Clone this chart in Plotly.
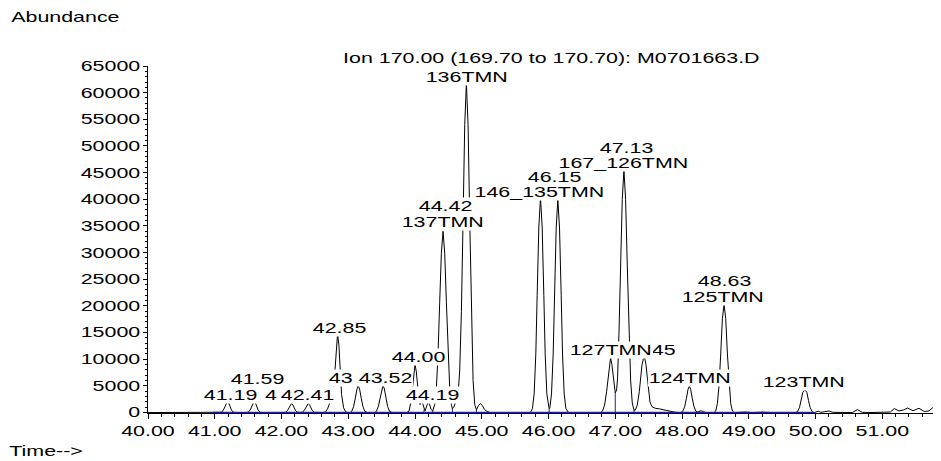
import plotly.graph_objects as go

# ---- data ----
time_min = [
    40.00, 41.09,
    41.10, 41.13, 41.15, 41.17, 41.19, 41.21, 41.23, 41.25, 41.28, 41.32,
    41.46, 41.50, 41.53, 41.55, 41.57, 41.59, 41.61, 41.63, 41.65, 41.68, 41.72,
    42.02, 42.06, 42.09, 42.11, 42.13, 42.15, 42.17, 42.19, 42.21, 42.24, 42.27,
    42.31, 42.34, 42.36, 42.38, 42.40, 42.42, 42.44, 42.46, 42.49, 42.53,
    42.62, 42.66, 42.69, 42.72, 42.75, 42.78, 42.80, 42.82, 42.84, 42.86, 42.88, 42.90, 42.93, 42.96, 42.99,
    43.03, 43.05, 43.08, 43.105, 43.13, 43.15, 43.17, 43.195, 43.22, 43.25, 43.29,
    43.40, 43.42, 43.45, 43.475, 43.50, 43.52, 43.54, 43.565, 43.59, 43.62, 43.66,
    43.88, 43.91, 43.94, 43.96, 43.98, 44.00, 44.02, 44.04, 44.06, 44.075, 44.09, 44.10, 44.115,
    44.135, 44.15, 44.175, 44.19, 44.20, 44.215, 44.24, 44.265,
    44.295, 44.32, 44.345, 44.37, 44.395, 44.42, 44.445, 44.47, 44.495, 44.52, 44.545,
    44.56, 44.58, 44.61, 44.63, 44.645, 44.67, 44.695, 44.72, 44.745, 44.77, 44.795, 44.82,
    44.845, 44.87, 44.895, 44.92, 44.95, 44.98, 45.01, 45.04, 45.08, 45.13,
    45.73, 45.76, 45.785, 45.81, 45.83, 45.855, 45.88, 45.905, 45.93, 45.95, 45.975, 46.00,
    46.01, 46.02, 46.045, 46.07, 46.09, 46.115, 46.14, 46.165, 46.19, 46.21, 46.235, 46.26, 46.30,
    46.78, 46.81, 46.84, 46.87, 46.89, 46.91, 46.93, 46.95, 46.97, 46.99, 47.00,
    47.02, 47.035, 47.055, 47.08, 47.105, 47.13, 47.155, 47.18, 47.205, 47.23, 47.255, 47.28,
    47.30, 47.33, 47.36, 47.38, 47.40, 47.42, 47.44, 47.46, 47.48, 47.50, 47.52, 47.55,
    47.60, 47.66, 47.72, 47.80, 47.88, 47.95,
    47.98, 48.01, 48.04, 48.065, 48.09, 48.11, 48.13, 48.155, 48.18, 48.21, 48.24,
    48.27, 48.29, 48.32, 48.36,
    48.48, 48.505, 48.53, 48.555, 48.58, 48.605, 48.63, 48.655, 48.68, 48.705, 48.73, 48.755, 48.78,
    48.95, 49.05, 49.20, 49.35,
    49.70, 49.73, 49.76, 49.785, 49.81, 49.84, 49.87, 49.895, 49.92, 49.95, 49.98,
    50.04, 50.08, 50.13, 50.20, 50.26, 50.35, 50.55, 50.63, 50.70, 50.80, 50.95, 51.05,
    51.12, 51.18, 51.25, 51.32, 51.38, 51.46, 51.55, 51.63, 51.70, 51.80, 51.85, 51.88,
]
abundance = [
    0, 0,
    60, 480, 1090, 1790, 2100, 1790, 1090, 480, 60, 0,
    0, 60, 480, 1090, 1790, 2100, 1790, 1090, 480, 60, 0,
    0, 50, 390, 880, 1450, 1700, 1450, 880, 390, 50, 0,
    50, 390, 880, 1450, 1700, 1450, 880, 390, 50, 0,
    0, 150, 700, 1700, 2600, 4200, 7800, 12600, 14800, 12600, 7700, 3400, 900, 150, 0,
    0, 200, 1100, 2650, 4400, 5000, 4400, 2650, 1100, 200, 0,
    0, 200, 1120, 2700, 4500, 5100, 4500, 2700, 1120, 200, 0,
    0, 270, 2070, 4680, 7650, 9000, 7650, 4680, 2300, 1500, 1900, 2200, 1700,
    600, 300, 1200, 1850, 2100, 1700, 600, 300,
    1500, 4600, 10900, 20700, 29900, 34000, 29900, 20700, 10900, 4600, 1500,
    700, 1000, 1900, 2600, 3200, 8000, 19000, 36000, 54000, 61800, 54000, 36000,
    17000, 6000, 1500, 500, 1300, 1700, 1300, 600, 200, 0,
    0, 800, 3500, 11000, 22000, 34800, 40300, 34800, 22000, 11000, 3500, 900,
    700, 900, 3500, 11000, 22000, 34600, 40000, 34600, 22000, 11000, 3500, 800, 0,
    0, 300, 1400, 3900, 6400, 9000, 10300, 9000, 6400, 4300, 3700,
    4200, 6500, 14600, 27700, 40000, 45500, 40000, 27700, 14600, 6100, 1800, 500,
    450, 1400, 3900, 6400, 8900, 10000, 10300, 9000, 6400, 3900, 2000, 1100,
    800, 700, 500, 250, 100, 0,
    0, 200, 1100, 2600, 4350, 4950, 4350, 2600, 1100, 200, 100,
    300, 350, 150, 0,
    0, 300, 1700, 5100, 11000, 17600, 20300, 17600, 11000, 5100, 1700, 300, 0,
    100, 0, 80, 0,
    0, 170, 950, 2250, 3800, 4300, 3800, 2250, 950, 170, 0,
    250, 50, 150, 300, 50, 0, 0, 550, 50, 0, 80, 50,
    100, 750, 300, 500, 850, 350, 800, 200, 300, 1400, 600, 300,
]

# integrated baseline (blue) and integration end markers
baseline_start, baseline_end = 40.96, 49.97
marker_times = [44.135, 44.265, 44.56, 44.92, 46.01, 47.00, 47.28, 48.24]
marker_heights = [600, 300, 700, 500, 700, 3700, 500, 100]

# peak annotations as they are visible in the reference (some are partly hidden there)
label_text = ["41.19", "41.59", "4", "42.41", "42.85", "43", "43.52",
              "44.00", "44.19", "44.42", "137TMN", "136TMN", "46.15", "146_135TMN",
              "47.13", "167_126TMN", "45", "127TMN", "124TMN", "48.63",
              "125TMN", "123TMN"]
label_rt = [41.19, 41.59, 42.15, 42.40, 42.84, 43.15, 43.52,
            44.00, 44.20, 44.42, 44.42, 44.77, 46.14, 45.88,
            47.13, 47.13, 47.44, 46.93, 48.11, 48.63,
            48.63, 49.84]

title_text = "Ion 170.00 (169.70 to 170.70): M0701663.D"
y_axis_title = "Abundance"
x_axis_title = "Time-->"
x_tick_vals = [40, 41, 42, 43, 44, 45, 46, 47, 48, 49, 50, 51]
y_tick_vals = list(range(0, 65001, 5000))

# ---- layout parameters (pixels) ----
label_dx = [2.6, 3, -21, -1, 2, -17, 2.5, 3, 4, 2, 0, 0.6, -3, -0.5, 3, 0, 19.4, 0.4, 0.7, 0, -1, -1]
label_dy = [6.4, 22.4, 8.5, 8.5, 5.7, 8, 7.4, 7.6, 6.4, 25.3, 9.3, 6.1, 22.3, 5.7, 22, 7, 7.7, 7.7, 8.2, 23.3, 7.3, 7.6]

FONT = "Liberation Sans"
FS = 14
STRETCH = 1.53          # reference text is drawn horizontally stretched
PAGE_OFF = 8            # default body margin of the html page
PL, PT, PW, PH = 148, 66, 793, 347   # plot area in page pixels
W = PL - PAGE_OFF + PW
H = 461 - PAGE_OFF
ML, MT = PL - PAGE_OFF, PT - PAGE_OFF
MB = H - MT - PH


def px_to_paper(xp, yp):
    return (xp - PL) / PW, (PT + PH - yp) / PH


fig = go.Figure()
fig.add_trace(go.Scatter(x=time_min, y=abundance, mode="lines",
                         line=dict(color="black", width=1), hoverinfo="skip"))
fig.add_trace(go.Scatter(x=[baseline_start, baseline_end], y=[0, 0], mode="lines",
                         line=dict(color="#1f1fa0", width=1.5), hoverinfo="skip"))
mx, my = [], []
for t, h in zip(marker_times, marker_heights):
    mx += [t, t, None]
    my += [0, h, None]
fig.add_trace(go.Scatter(x=mx, y=my, mode="lines",
                         line=dict(color="#1f1fa0", width=1), hoverinfo="skip"))

lookup = dict(zip(time_min, abundance))
for txt, rt, dy, dx in zip(label_text, label_rt, label_dy, label_dx):
    fig.add_annotation(x=rt, y=lookup[rt], xref="x", yref="y", text=txt,
                       showarrow=False, xanchor="center", yanchor="middle",
                       yshift=dy, xshift=dx, bgcolor="white", borderpad=0,
                       font=dict(family=FONT, size=FS, color="black"))

for txt, (cx, cy), bg in [(title_text, (551, 58), "white"),
                          (y_axis_title, (65, 17), None),
                          (x_axis_title, (46, 451), None)]:
    px, py = px_to_paper(cx, cy)
    fig.add_annotation(x=px, y=py, xref="paper", yref="paper", text=txt,
                       showarrow=False, xanchor="center", yanchor="middle",
                       bgcolor=bg or "rgba(0,0,0,0)", borderpad=0,
                       font=dict(family=FONT, size=FS, color="black"))

fig.update_layout(
    width=W, height=H, margin=dict(l=ML, r=0, t=MT, b=MB),
    paper_bgcolor="white", plot_bgcolor="white", showlegend=False,
    font=dict(family=FONT, size=FS, color="black"),
)
fig.update_xaxes(range=[40, 51.88], showgrid=False, zeroline=False,
                 showline=True, linecolor="black", linewidth=1,
                 ticks="outside", ticklen=5, tickcolor="black",
                 tickvals=x_tick_vals, tickformat=".2f",
                 tickfont=dict(family=FONT, size=FS),
                 minor=dict(dtick=0.2, tick0=40, ticks="outside", ticklen=3, tickcolor="black"))
fig.update_yaxes(range=[-80, 65000], showgrid=False, zeroline=False,
                 showline=True, linecolor="black", linewidth=1,
                 ticks="outside", ticklen=4, tickcolor="black",
                 tickvals=y_tick_vals, tickformat="d",
                 tickfont=dict(family=FONT, size=FS),
                 minor=dict(dtick=1000, tick0=0, ticks="outside", ticklen=2, tickcolor="black"))

# widen all texts horizontally around their anchor, like the reference rendering
post = """
var gd = document.getElementById('{plot_id}');
var S = %s;
function sx(el, cx, cy) {
  var t = el.getAttribute('transform') || '';
  el.setAttribute('transform', t + ' translate(' + cx + ',' + cy + ') scale(' + S + ',1) translate(' + (-cx) + ',' + (-cy) + ')');
}
gd.querySelectorAll('g.annotation-text-g').forEach(function (g) {
  var b = g.getBBox();
  sx(g, b.x + b.width / 2, b.y + b.height / 2);
});
gd.querySelectorAll('g.xtick text, g.ytick text').forEach(function (el) {
  var x = parseFloat(el.getAttribute('x')) || 0;
  var y = parseFloat(el.getAttribute('y')) || 0;
  sx(el, x, y);
});
""" % STRETCH

fig.write_html("out.html", post_script=post)
